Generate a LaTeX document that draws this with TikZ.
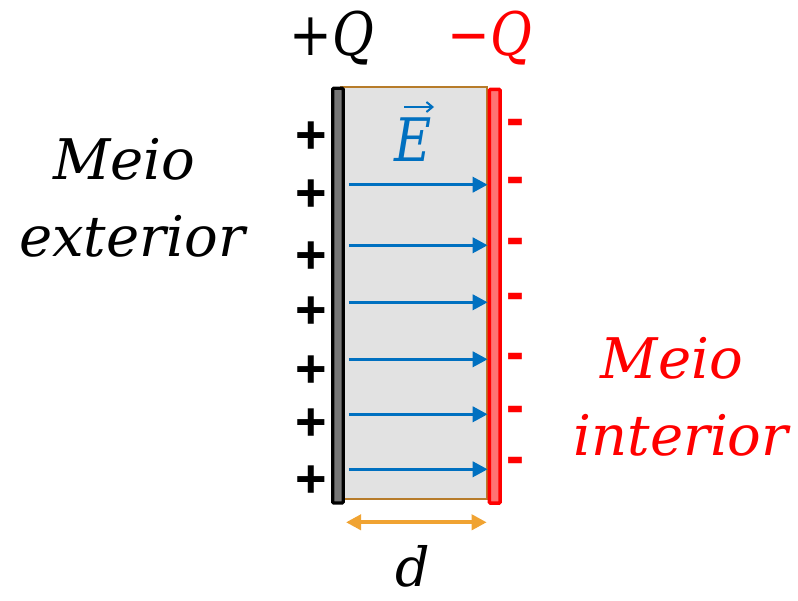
\documentclass[tikz,border=0pt]{standalone}
\usepackage{fontspec}
\setmainfont{DejaVu Serif}
\newfontfamily\signfont{Liberation Sans}
\usetikzlibrary{arrows.meta}
\definecolor{fieldblue}{RGB}{0,112,192}
\definecolor{plategray}{RGB}{118,118,118}
\definecolor{platered}{RGB}{255,0,0}
\definecolor{platepink}{RGB}{255,115,115}
\definecolor{gapgray}{RGB}{226,226,226}
\definecolor{gapbrown}{RGB}{183,124,42}
\definecolor{dimorange}{RGB}{240,163,50}
\begin{document}
\begin{tikzpicture}[x=1pt,y=-1pt,
  lbl/.style={anchor=base,inner sep=0pt,font=\fontsize{56}{60}\selectfont\itshape},
  biglbl/.style={anchor=base,inner sep=0pt,font=\fontsize{60}{64}\selectfont},
  plussign/.style={anchor=base,inner sep=0pt,yshift=-19pt,font=\signfont\bfseries\fontsize{54}{58}\selectfont},
  minussign/.style={anchor=base,inner sep=0pt,yshift=-13.5pt,text=platered,font=\signfont\bfseries\fontsize{54}{58}\selectfont},
  field/.style={fieldblue,line width=3.5pt,-{Triangle[length=15pt,width=15pt]}},
  dimline/.style={dimorange,line width=4pt,{Triangle[length=15pt,width=15pt]}-{Triangle[length=15pt,width=15pt]}}
]
\useasboundingbox (0,0) rectangle (798,601);
% gap between plates
\draw[fill=gapgray,draw=gapbrown,line width=2pt] (341,87) rectangle (487,499);
% left plate
\node[draw=black,fill=plategray,line width=3.3pt,rounded corners=1pt,minimum width=10.5pt,minimum height=414.6pt,inner sep=0pt,anchor=north west] (lp) at (331,86.7) {};
% right plate
\node[draw=platered,fill=platepink,line width=3.5pt,rounded corners=1pt,minimum width=10.6pt,minimum height=413.6pt,inner sep=0pt,anchor=north west] (rp) at (487.7,87.7) {};
% field lines
\foreach \y in {184.7,245.3,302.3,359.3,414.3,469.3}
  \draw[field,shorten <=4pt] (lp.east |- 0,\y) -- (rp.west |- 0,\y);
% charges
\foreach \y [count=\i] in {135,192.7,254.3,309.3,368.3,421.7,478.3}
  \node[plussign] (plus\i) at (311.7,\y) {+};
\foreach \y [count=\i] in {123.3,181,242.3,297.3,357.3,410.3,461.3}
  \node[minussign] (minus\i) at (515.7,\y) {-};
% labels
\node[biglbl] (qp) at (332,56) {\scalebox{0.85}[1]{+\textit{Q}}};
\node[biglbl,text=platered] (qm) at (490,56) {\scalebox{0.85}[1]{−\textit{Q}}};
\node[biglbl,text=fieldblue] (E) at (413,162) {\scalebox{0.85}[1]{\textit{E}}};
\draw[fieldblue,line width=2pt,-{Straight Barb[length=6pt,width=10pt]}] (404,107) -- (434,107);
\node[lbl] (m1) at (124.5,180) {Meio};
\node[lbl] (m2) at (132,257) {exterior};
\node[lbl,text=platered] (m3) at (672,379) {Meio};
\node[lbl,text=platered] (m4) at (681,456) {interior};
% plate separation
\coordinate (dl) at (346,522.3);
\coordinate (dr) at (486.7,522.3);
\draw[dimline] (dl) -- (dr);
\node[lbl,font=\fontsize{54}{58}\selectfont] (d) at (413,586) {\textit{d}};
\end{tikzpicture}
\end{document}
